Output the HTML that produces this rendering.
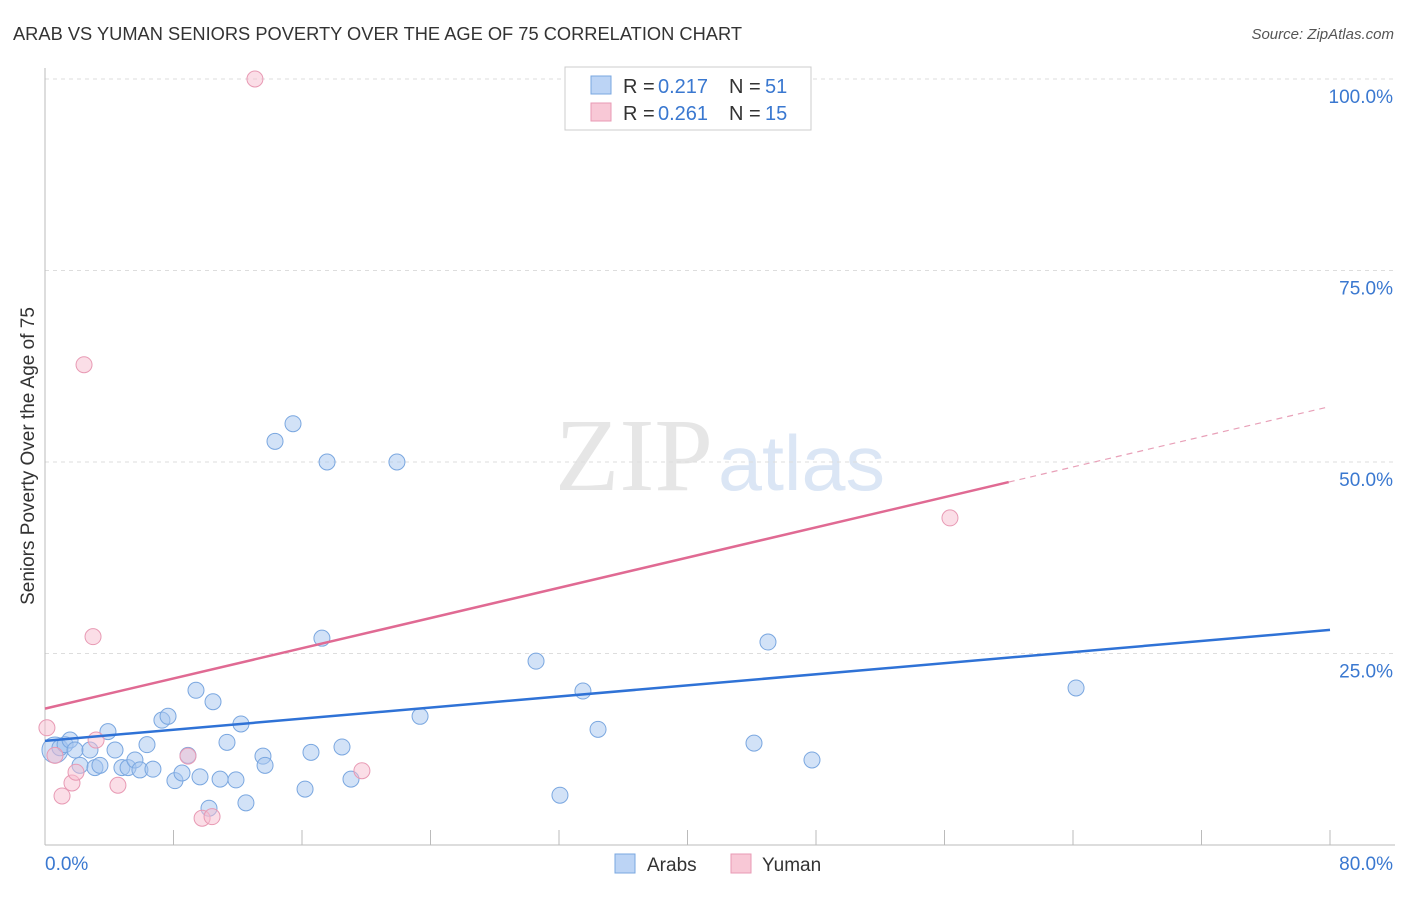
<!DOCTYPE html>
<html><head><meta charset="utf-8"><style>
body{margin:0;background:#fff;font-family:"Liberation Sans",sans-serif;}
</style></head><body>
<svg id="chart" width="1406" height="892" xmlns="http://www.w3.org/2000/svg" font-family="Liberation Sans, sans-serif">
<text x="13" y="40" font-size="18" fill="#333" textLength="729" lengthAdjust="spacingAndGlyphs">ARAB VS YUMAN SENIORS POVERTY OVER THE AGE OF 75 CORRELATION CHART</text>
<text x="1394" y="39" font-size="15" fill="#555" text-anchor="end" font-style="italic">Source: ZipAtlas.com</text>
<text x="555" y="490" font-size="104" fill="#e6e6e6" font-family="Liberation Serif, serif" textLength="158" lengthAdjust="spacingAndGlyphs">ZIP</text>
<text x="718" y="490" font-size="78" fill="#dbe6f5" textLength="167" lengthAdjust="spacingAndGlyphs">atlas</text>
<text transform="translate(34,456) rotate(-90)" font-size="19" fill="#333" text-anchor="middle">Seniors Poverty Over the Age of 75</text>
<g id="grid"></g><g id="marks"></g>
<g>
<rect x="565" y="67" width="246" height="63" fill="#fff" stroke="#ccc"/>
<rect x="591" y="76" width="20" height="18" fill="#bcd4f5" stroke="#7aa7e0"/>
<text x="623" y="93" font-size="20" fill="#333">R = </text><text x="658" y="93" font-size="20" fill="#3a78d0">0.217</text>
<text x="729" y="93" font-size="20" fill="#333">N = </text><text x="765" y="93" font-size="20" fill="#3a78d0">51</text>
<rect x="591" y="103" width="20" height="18" fill="#f8c8d6" stroke="#e89ab4"/>
<text x="623" y="120" font-size="20" fill="#333">R = </text><text x="658" y="120" font-size="20" fill="#3a78d0">0.261</text>
<text x="729" y="120" font-size="20" fill="#333">N = </text><text x="765" y="120" font-size="20" fill="#3a78d0">15</text>
</g>
<g>
<rect x="615" y="854" width="20" height="19" fill="#bcd4f5" stroke="#7aa7e0"/>
<text x="647" y="871" font-size="19" fill="#333">Arabs</text>
<rect x="731" y="854" width="20" height="19" fill="#f8c8d6" stroke="#e89ab4"/>
<text x="762" y="871" font-size="19" fill="#333">Yuman</text>
</g>
</svg>
<script>
const arabX=[0.62,0.93,1.25,1.56,1.87,2.18,2.8,3.11,3.42,3.92,4.36,4.79,5.17,5.6,5.91,6.35,6.72,7.28,7.66,8.09,8.53,8.9,9.4,9.65,10.21,10.46,10.9,11.33,11.89,12.2,12.51,13.57,13.7,14.32,15.44,16.19,16.56,17.24,17.56,18.49,19.05,21.91,23.35,30.57,32.06,33.49,34.43,44.14,45.01,47.75,64.19];
const arabY=[12.4,12.7,13.1,13.7,12.4,10.4,12.4,10.1,10.4,14.8,12.4,10.1,10.1,11.1,9.8,13.1,9.9,16.3,16.8,8.4,9.4,11.7,20.2,8.9,4.8,18.7,8.6,13.4,8.5,15.8,5.5,11.6,10.4,52.7,55.0,7.3,12.1,27.0,50.0,12.8,8.6,50.0,16.8,24.0,6.5,20.1,15.1,13.3,26.5,11.1,20.5];
const yumanX=[0.12,0.62,1.06,1.68,1.93,2.43,2.99,3.18,4.54,8.9,9.78,10.4,13.07,19.73,56.34];
const yumanY=[15.3,11.7,6.4,8.1,9.5,62.7,27.2,13.7,7.8,11.6,3.5,3.7,100,9.7,42.7];
const arabTrend=[13.6,0.181];
const yumanTrend=[17.8,0.493];
const yTicks=[25,50,75,100];
const yTickLabels=["25.0%","50.0%","75.0%","100.0%"];
const NS="http://www.w3.org/2000/svg";
const sx=v=>45+v*16.0625, sy=v=>845-v*7.66;
function mk(t,a,p){const e=document.createElementNS(NS,t);for(const k in a)e.setAttribute(k,a[k]);p.appendChild(e);return e;}
const g=document.getElementById('grid'), m=document.getElementById('marks');
yTicks.forEach((t,i)=>{
 const l=mk('line',{x1:45,x2:1395,y1:sy(t),y2:sy(t),stroke:'#ddd','stroke-dasharray':'4,4'},g);
 
 
 const tx=mk('text',{x:1393,y:sy(t)+24,'font-size':19,fill:'#3a78d0','text-anchor':'end'},g);
 tx.textContent=yTickLabels[i];
 
 
});
const ya=mk('line',{x1:45,x2:45,y1:68,y2:845,stroke:'#bbb'},g);


const xa=mk('line',{x1:45,x2:1395,y1:845,y2:845,stroke:'#bbb'},g);


for(let v=0;v<=80;v+=8){const tk=mk('line',{x1:sx(v),x2:sx(v),y1:830,y2:845,stroke:'#bbb'},g);
 
 }
[[0,'0.0%',45,'start'],[80,'80.0%',1393,'end']].forEach(a=>{const t=mk('text',{x:a[2],y:870,'font-size':19,fill:'#3a78d0','text-anchor':a[3]},g);t.textContent=a[1];
 
 });
arabX.forEach((x,i)=>{const c=mk('circle',{cx:sx(x),cy:sy(arabY[i]),r:i==0?13:8,fill:'rgba(165,198,240,0.5)',stroke:'#7aa7e0','stroke-width':1},m);
 
 });
yumanX.forEach((x,i)=>{const c=mk('circle',{cx:sx(x),cy:sy(yumanY[i]),r:8,fill:'rgba(248,190,208,0.5)',stroke:'#e89ab4','stroke-width':1},m);
 
 });
const bl=mk('line',{x1:sx(0),y1:sy(arabTrend[0]),x2:sx(80),y2:sy(arabTrend[0]+80*arabTrend[1]),stroke:'#2f72d6','stroke-width':2.5},m);


const pl=mk('line',{x1:sx(0),y1:sy(yumanTrend[0]),x2:sx(60),y2:sy(yumanTrend[0]+60*yumanTrend[1]),stroke:'#e06a93','stroke-width':2.5},m);


const pd=mk('line',{x1:sx(60),y1:sy(yumanTrend[0]+60*yumanTrend[1]),x2:sx(80),y2:sy(yumanTrend[0]+80*yumanTrend[1]),stroke:'#e8a0b8','stroke-width':1.2,'stroke-dasharray':'6,5'},m);


</script>
</body></html>
